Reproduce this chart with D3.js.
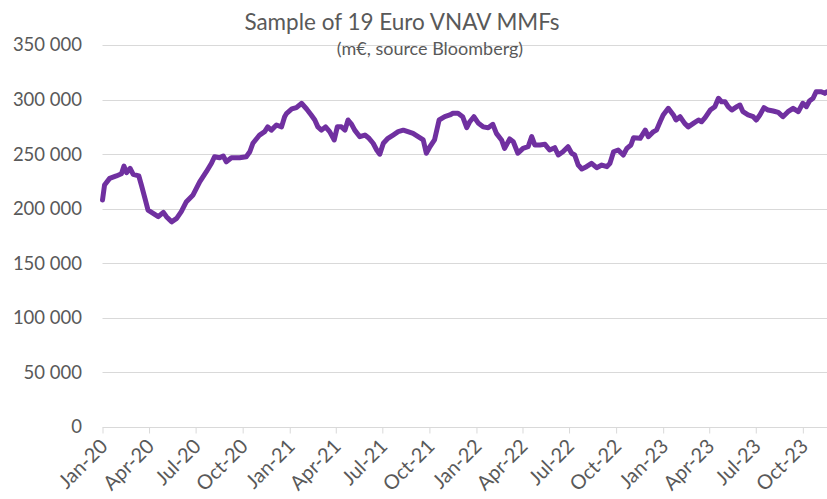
<!DOCTYPE html>
<html>
<head>
<meta charset="utf-8">
<script src="https://cdn.jsdelivr.net/npm/d3@7"></script>
<style>
  body { margin: 0; background: #fff; }
  svg { display: block; font-family: Lato, "Open Sans", sans-serif; }
</style>
</head>
<body>
<svg width="827" height="499"></svg>
<script>
// AUM of the sample, m€
const dates = [
  '2020-01-01','2020-01-05','2020-01-15','2020-01-28','2020-02-07','2020-02-12','2020-02-17','2020-02-24',
  '2020-03-01','2020-03-12','2020-03-17','2020-03-24','2020-03-30','2020-04-09','2020-04-19','2020-04-29',
  '2020-05-05','2020-05-15','2020-05-25','2020-06-03','2020-06-13','2020-06-26','2020-07-09','2020-07-22',
  '2020-08-01','2020-08-07','2020-08-17','2020-08-24','2020-08-30','2020-09-09','2020-09-25','2020-10-08',
  '2020-10-15','2020-10-21','2020-11-03','2020-11-13','2020-11-19','2020-11-26','2020-12-06','2020-12-16',
  '2020-12-22','2020-12-26','2021-01-05','2021-01-14','2021-01-24','2021-02-03','2021-02-12','2021-02-19',
  '2021-02-25','2021-03-04','2021-03-12','2021-03-20','2021-03-29','2021-04-04','2021-04-12','2021-04-19',
  '2021-04-25','2021-05-02','2021-05-08','2021-05-18','2021-05-28','2021-06-05','2021-06-13','2021-06-20',
  '2021-06-26','2021-07-03','2021-07-12','2021-07-22','2021-08-01','2021-08-11','2021-08-20','2021-08-30',
  '2021-09-09','2021-09-19','2021-09-25','2021-10-02','2021-10-11','2021-10-20','2021-10-31','2021-11-10',
  '2021-11-16','2021-11-26','2021-12-05','2021-12-13','2021-12-19','2021-12-27','2022-01-05','2022-01-14',
  '2022-01-24','2022-02-02','2022-02-09','2022-02-19','2022-02-25','2022-03-07','2022-03-14','2022-03-23',
  '2022-04-02','2022-04-12','2022-04-19','2022-04-25','2022-05-05','2022-05-15','2022-05-24','2022-06-03',
  '2022-06-10','2022-06-19','2022-06-29','2022-07-06','2022-07-12','2022-07-19','2022-07-26','2022-08-04',
  '2022-08-14','2022-08-24','2022-09-03','2022-09-13','2022-09-19','2022-09-26','2022-10-05','2022-10-15',
  '2022-10-22','2022-10-30','2022-11-04','2022-11-17','2022-11-27','2022-12-03','2022-12-13','2022-12-19',
  '2022-12-26','2023-01-01','2023-01-11','2023-01-21','2023-01-26','2023-02-03','2023-02-12','2023-02-19',
  '2023-03-01','2023-03-11','2023-03-17','2023-03-24','2023-04-03','2023-04-12','2023-04-19','2023-04-25',
  '2023-05-02','2023-05-08','2023-05-15','2023-05-25','2023-05-31','2023-06-06','2023-06-16','2023-06-26',
  '2023-07-02','2023-07-09','2023-07-17','2023-07-25','2023-08-04','2023-08-14','2023-08-23','2023-09-02',
  '2023-09-12','2023-09-22','2023-10-01','2023-10-08','2023-10-14','2023-10-21','2023-10-27','2023-11-06',
  '2023-11-13','2023-11-17','2023-11-24'
];
const aum = [
  208000,221700,227800,230000,232000,239000,233000,237000,
  231500,230000,221700,209500,198800,195800,192700,196700,
  192700,188000,191200,197300,206400,212600,224700,233900,
  241600,247600,246700,248300,243000,246700,246700,247600,
  252200,260000,267500,270600,275000,272000,276700,275000,
  284300,287400,291400,292600,296600,291400,285900,281300,
  275000,272000,275000,270600,263000,275000,275000,272000,
  281300,277300,272000,266000,267500,264500,260000,253800,
  250000,260000,264500,267500,270600,272000,270600,269000,
  266000,263000,250800,256800,263000,281300,284300,285900,
  287400,287400,284300,274200,279700,284300,278200,275000,
  274200,277300,269000,263000,255300,263900,261400,250800,
  255300,256800,266000,258400,258400,259000,253800,255900,
  249200,252200,256800,250800,249200,240000,236400,238500,
  241600,237600,240000,238500,241600,252200,253800,249200,
  255300,258400,265000,264500,272000,266000,270600,272000,
  279700,285900,292000,285900,281300,284300,278200,275000,
  278200,281300,279700,283400,290400,293500,301200,298000,
  298000,293500,290400,293500,295000,288900,285900,284300,
  281300,285900,292600,290400,289500,288200,284300,288900,
  292000,288900,296600,293500,298700,301200,307200,307200,
  305700,307200,306000
];
const yTicks = [0, 50000, 100000, 150000, 200000, 250000, 300000, 350000];
const xTickDates = d3.timeMonths(new Date(2020, 0, 1), new Date(2024, 0, 1), 3);

const title = 'Sample of 19 Euro VNAV MMFs';
const subtitle = '(m€, source Bloomberg)';

const width = 827, height = 499;
const plotLeft = 102.5, plotTop = 45, plotBottom = 427;

const parse = d3.timeParse('%Y-%m-%d');
const series = dates.map((d, i) => ({ date: parse(d), value: aum[i] }));

const svg = d3.select('svg');

const x = d3.scaleTime()
  .domain([new Date(2020, 0, 1), new Date(2024, 0, 1)])
  .range([plotLeft, 849.9]);

const y = d3.scaleLinear()
  .domain([0, 350000])
  .range([plotBottom, plotTop]);

const fmt = v => d3.format(',')(v).replace(/,/g, ' ');

// horizontal gridlines
svg.append('g')
  .selectAll('line')
  .data(yTicks.filter(v => v > 0))
  .join('line')
  .attr('x1', plotLeft).attr('x2', width)
  .attr('y1', d => Math.round(y(d)) + 0.5).attr('y2', d => Math.round(y(d)) + 0.5)
  .attr('stroke', '#d9d9d9').attr('stroke-width', 1);

// y labels
svg.append('g')
  .selectAll('text')
  .data(yTicks)
  .join('text')
  .attr('x', 82)
  .attr('y', d => y(d))
  .attr('dy', '0.35em')
  .attr('text-anchor', 'end')
  .attr('fill', '#595959')
  .style('font-size', '18.5px')
  .text(fmt);

// x axis
const xAxis = svg.append('g')
  .attr('transform', `translate(0,${Math.round(plotBottom) + 0.5})`)
  .call(d3.axisBottom(x).tickValues(xTickDates).tickSize(6).tickSizeOuter(0).tickFormat(d3.timeFormat('%b-%y')));

xAxis.select('.domain').attr('stroke', '#d9d9d9').attr('d', `M${plotLeft},0H${width}`);
xAxis.selectAll('.tick line').attr('stroke', '#d9d9d9');
xAxis.selectAll('.tick text')
  .attr('fill', '#595959')
  .style('font-family', 'Lato, sans-serif')
  .style('font-size', '20px')
  .attr('text-anchor', 'end')
  .attr('dy', null)
  .attr('y', 0)
  .attr('transform', 'translate(6,20) rotate(-45)');

// the series
svg.append('path')
  .datum(series)
  .attr('fill', 'none')
  .attr('stroke', '#7030a0')
  .attr('stroke-width', 5)
  .attr('stroke-linejoin', 'round')
  .attr('stroke-linecap', 'round')
  .attr('d', d3.line().x(d => x(d.date)).y(d => y(d.value)));

// titles
svg.append('text')
  .attr('x', 402).attr('y', 30)
  .attr('text-anchor', 'middle')
  .attr('fill', '#595959')
  .style('font-size', '22.5px')
  .text(title);

svg.append('text')
  .attr('x', 430).attr('y', 55)
  .attr('text-anchor', 'middle')
  .attr('fill', '#595959')
  .style('font-size', '18px')
  .text(subtitle);
</script>
</body>
</html>
